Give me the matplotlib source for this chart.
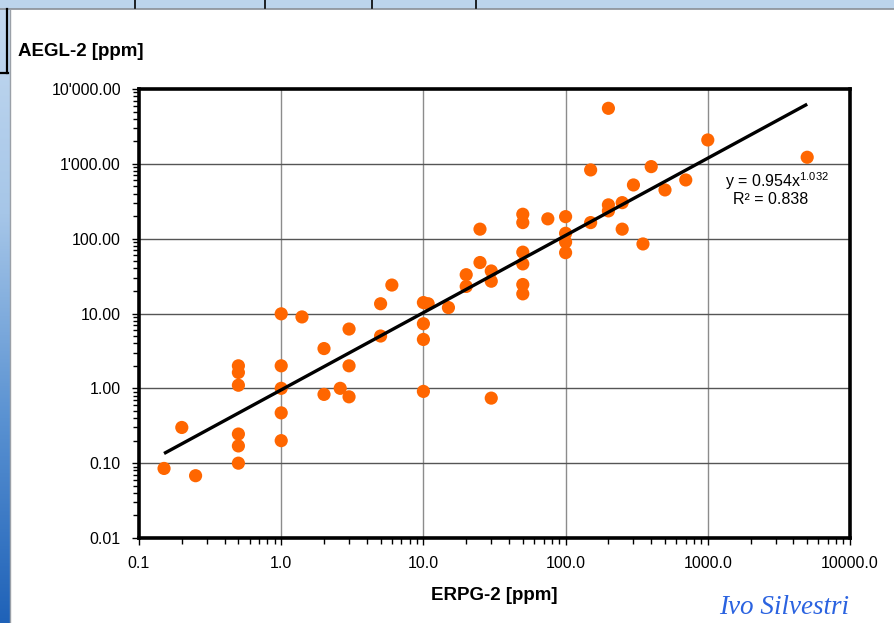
import numpy as np
import matplotlib
matplotlib.use("Agg")
import matplotlib.pyplot as plt
from matplotlib.patches import Rectangle
from matplotlib.lines import Line2D
from matplotlib.ticker import FixedLocator, NullFormatter, LogLocator

# ERPG-2 vs AEGL-2 values (ppm)
erpg2 = [0.15, 0.2, 0.25,
         0.5, 0.5, 0.5, 0.5, 0.5, 0.5,
         1.0, 1.0, 1.0, 1.0, 1.0, 1.4,
         2.0, 2.0, 2.6, 3.0, 3.0, 3.0,
         5.0, 5.0, 6.0,
         10.0, 10.8, 10.0, 10.0, 10.0, 15.0,
         20.0, 20.0, 25.0, 25.0, 30.0, 30.0, 30.0,
         50.0, 50.0, 50.0, 50.0, 50.0, 50.0,
         75.0, 100.0, 100.0, 100.0, 100.0,
         150.0, 150.0, 200.0, 200.0, 200.0,
         250.0, 250.0, 300.0, 350.0, 400.0, 500.0, 700.0,
         1000.0, 5000.0]
aegl2 = [0.085, 0.30, 0.068,
         2.0, 1.63, 1.1, 0.245, 0.17, 0.10,
         9.9, 2.0, 1.0, 0.47, 0.20, 9.0,
         3.4, 0.83, 1.0, 6.2, 2.0, 0.77,
         13.5, 5.0, 24.0,
         14.0, 13.5, 7.3, 4.5, 0.91, 12.0,
         33.0, 23.0, 134.0, 48.0, 37.0, 27.0, 0.74,
         212.0, 164.0, 66.0, 46.0, 24.4, 18.3,
         184.0, 197.0, 118.0, 90.0, 65.0,
         829.0, 164.0, 5520.0, 283.0, 235.0,
         303.0, 134.0, 522.0, 85.0, 918.0, 448.0, 609.0,
         2085.0, 1224.0]

# Power-law trend: y = a * x^b
fit_a, fit_b, fit_r2 = 0.954, 1.032, 0.838
fit_x = [0.15, 5000.0]

x_ticks = [0.1, 1.0, 10.0, 100.0, 1000.0, 10000.0]
x_labels = ["0.1", "1.0", "10.0", "100.0", "1000.0", "10000.0"]
y_ticks = [0.01, 0.1, 1.0, 10.0, 100.0, 1000.0, 10000.0]
y_labels = ["0.01", "0.10", "1.00", "10.00", "100.00", "1'000.00", "10'000.00"]

plt.rcParams['font.family'] = ['Liberation Sans', 'DejaVu Sans']
plt.rcParams['mathtext.default'] = 'regular'

W, H = 895, 623
fig = plt.figure(figsize=(W / 100, H / 100), dpi=100)
fig.patch.set_facecolor("white")

def fx(px):
    return px / W

def fy(py):
    return 1 - py / H

# window frame: top strip with column dividers, left gradient strip
fig.patches.append(Rectangle((0, fy(9)), 1, 9 / H, transform=fig.transFigure,
                             facecolor="#bcd4ec", edgecolor="none", zorder=0))
fig.lines.append(Line2D([0, 1], [fy(9), fy(9)], transform=fig.transFigure,
                        color="#8a8f96", lw=1.2))
for px in [135, 265, 372, 476]:
    fig.lines.append(Line2D([fx(px), fx(px)], [1, fy(8)], transform=fig.transFigure,
                            color="black", lw=1.2))
grad = np.linspace(0, 1, 256).reshape(-1, 1)
cmap = matplotlib.colors.LinearSegmentedColormap.from_list(
    "side", ["#c3d9f0", "#a6c6e8", "#5a92d2", "#1f62b8"])
ax_side = fig.add_axes([0, 0, fx(10), fy(9)])
ax_side.imshow(grad, aspect="auto", cmap=cmap, origin="upper")
ax_side.set_axis_off()
fig.lines.append(Line2D([fx(10), fx(10)], [0, fy(9)], transform=fig.transFigure,
                        color="#9aa0a8", lw=1.0))
fig.lines.append(Line2D([fx(7), fx(7)], [fy(9), fy(73)], transform=fig.transFigure,
                        color="black", lw=1.6))
fig.lines.append(Line2D([0, fx(8)], [fy(73), fy(73)], transform=fig.transFigure,
                        color="black", lw=1.6))

# main plot area
ax = fig.add_axes([fx(139), fy(538), fx(850) - fx(139), fy(89) - fy(538)])
ax.set_xscale("log")
ax.set_yscale("log")
ax.set_xlim(0.1, 10000)
ax.set_ylim(0.01, 10000)

ax.xaxis.set_major_locator(FixedLocator(x_ticks))
ax.yaxis.set_major_locator(FixedLocator(y_ticks))
ax.set_xticklabels(x_labels)
ax.set_yticklabels(y_labels)
ax.xaxis.set_minor_locator(LogLocator(base=10, subs=np.arange(2, 10)))
ax.yaxis.set_minor_locator(LogLocator(base=10, subs=np.arange(2, 10)))
ax.xaxis.set_minor_formatter(NullFormatter())
ax.yaxis.set_minor_formatter(NullFormatter())

ax.tick_params(axis="both", which="major", direction="out", length=5, width=1,
               labelsize=11.5, colors="black", pad=8)
ax.tick_params(axis="both", which="minor", direction="out", length=4, width=1)

for s in ax.spines.values():
    s.set_linewidth(2.6)
    s.set_color("black")

for xv in x_ticks[1:-1]:
    ax.axvline(xv, color="#8c8c8c", lw=1.0, zorder=1)
for yv in y_ticks[1:-1]:
    ax.axhline(yv, color="#555555", lw=1.0, zorder=1)

ax.scatter(erpg2, aegl2, s=90, color="#ff6600", edgecolors="none", zorder=3)

fx_arr = np.array(fit_x)
ax.plot(fx_arr, fit_a * fx_arr ** fit_b, color="black", lw=2.4, zorder=4,
        solid_capstyle="butt")

ax.text(0.897, 0.795, r"y = %.3fx$^{%.3f}$" % (fit_a, fit_b), transform=ax.transAxes,
        fontsize=11.5, ha="center", va="center")
ax.text(0.888, 0.753, "R² = %.3f" % fit_r2, transform=ax.transAxes,
        fontsize=11.5, ha="center", va="center")

fig.text(fx(18), fy(52), "AEGL-2 [ppm]", fontsize=13.5, fontweight="bold",
         ha="left", va="center")
fig.text(fx(494), fy(595), "ERPG-2 [ppm]", fontsize=13.5, fontweight="bold",
         ha="center", va="center")
fig.text(fx(784), fy(607), "Ivo Silvestri", fontsize=19.5, style="italic",
         family=["Liberation Serif", "DejaVu Serif"], color="#2b63e0",
         ha="center", va="center")

fig.savefig("out.png", dpi=100)
